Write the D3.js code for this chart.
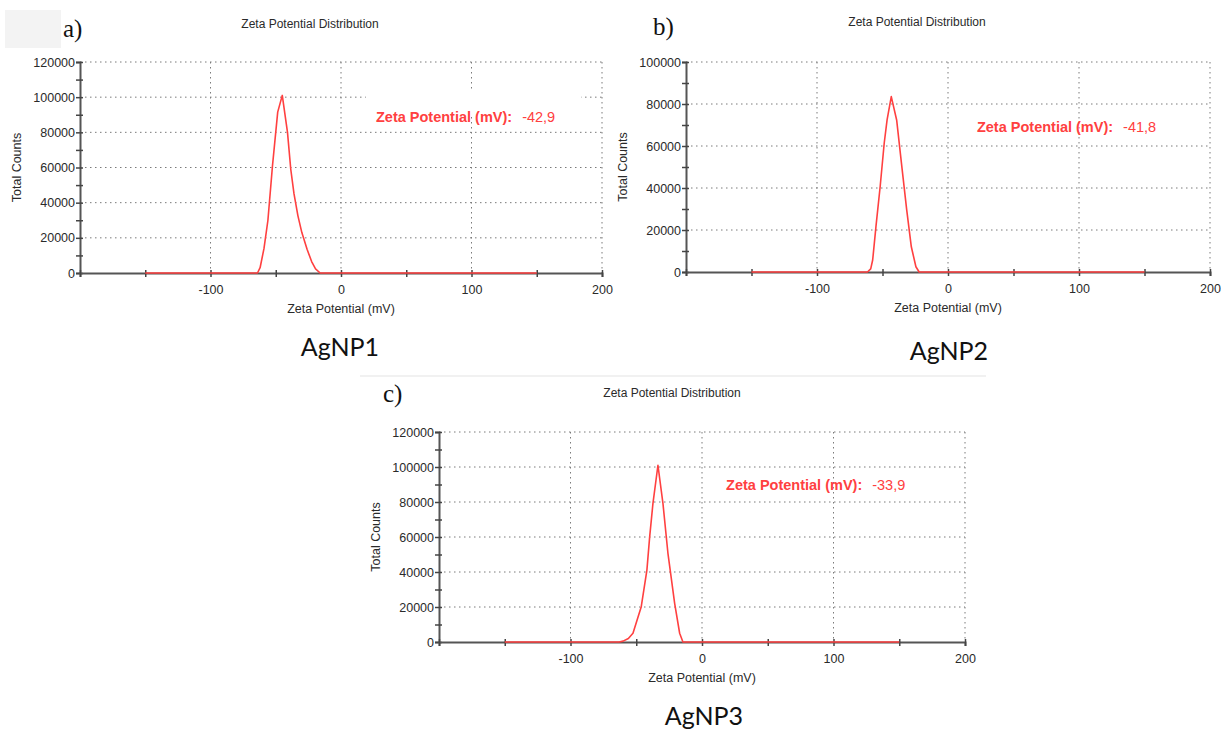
<!DOCTYPE html>
<html lang="en">
<head>
<meta charset="utf-8">
<title>Zeta Potential Distribution</title>
<script src="https://d3js.org/d3.v7.min.js"></script>
<style>
  body { margin: 0; background: #fff; }
  svg { display: block; }
  text { font-family: "Liberation Sans", Arial, sans-serif; }
</style>
</head>
<body>
<div id="chart"></div>
<script>
// zeta potential (mV) vs total counts
const zetaA   = [-150, -64, -62, -59, -56, -52.5, -48.5, -45, -41, -38.5, -36, -33, -30, -26, -22.5, -19.5, -16, 150];
const countsA = [0, 0, 3000, 14000, 30000, 61000, 91500, 101000, 80000, 59000, 45000, 32500, 23000, 13500, 6500, 2300, 0, 0];

const zetaB   = [-150, -61.5, -59, -57.5, -55, -51.8, -48.7, -46.5, -43.3, -39.2, -35.8, -31.5, -28, -24.5, -22, 150];
const countsB = [0, 0, 1500, 5700, 21600, 40600, 61300, 72400, 83500, 72400, 53300, 29500, 12000, 2500, 0, 0];

const zetaC   = [-150, -63, -60, -56, -52.5, -46.2, -41.9, -39.8, -37.3, -33.5, -29.7, -25.9, -20.8, -17, -14.5, 150];
const countsC = [0, 0, 500, 2000, 5000, 20200, 41100, 60100, 79200, 101000, 79200, 50700, 22100, 5000, 0, 0];

const letters = ["a)", "b)", "c)"];
const samples = ["AgNP1", "AgNP2", "AgNP3"];
const zetaValues = ["-42,9", "-41,8", "-33,9"];
const yMaxes = [120000, 100000, 120000];
const xTicks = [-200, -150, -100, -50, 0, 50, 100, 150, 200];
const xTickLabels = [-100, 0, 100, 200];

const red = "#ff4040";

const svg = d3.select("#chart").append("svg")
    .attr("width", 1221)
    .attr("height", 731);

// light box behind "a)" and faint rule above panel c
svg.append("rect").attr("x", 5).attr("y", 10).attr("width", 56).attr("height", 38).attr("fill", "#f3f3f3");
svg.append("line").attr("x1", 360).attr("x2", 986).attr("y1", 376).attr("y2", 376)
    .attr("stroke", "#ececec").attr("stroke-width", 1.5);

const panels = [
  {left: 80, right: 602, top: 62, bottom: 273, zeta: zetaA, counts: countsA,
   letterX: 63, letterY: 37, titleX: 310, titleY: 28, nameX: 340, nameY: 356,
   annX: 26.8, annY: 85900, gap: [19, 184]},
  {left: 686, right: 1210, top: 62, bottom: 272, zeta: zetaB, counts: countsB,
   letterX: 653, letterY: 35, titleX: 917, titleY: 26, nameX: 949, nameY: 360,
   annX: 22.1, annY: 66700},
  {left: 439, right: 965, top: 432, bottom: 642, zeta: zetaC, counts: countsC,
   letterX: 383, letterY: 402, titleX: 672, titleY: 397, nameX: 704, nameY: 725,
   annX: 18.3, annY: 86900}
];

panels.forEach((p, i) => {
  const x = d3.scaleLinear().domain([-200, 200]).range([p.left, p.right]);
  const y = d3.scaleLinear().domain([0, yMaxes[i]]).range([p.bottom, p.top]);
  const g = svg.append("g");

  // dotted grid
  const yGrid = d3.range(20000, yMaxes[i] + 1, 20000);
  g.selectAll(".hg").data(yGrid).join("line")
      .attr("x1", p.left).attr("x2", p.right)
      .attr("y1", d => y(d)).attr("y2", d => y(d))
      .attr("stroke", "#7a7a7a").attr("stroke-dasharray", "1.5,3.5");
  g.selectAll(".vg").data(xTickLabels).join("line")
      .attr("x1", d => x(d)).attr("x2", d => x(d))
      .attr("y1", p.top).attr("y2", p.bottom)
      .attr("stroke", "#7a7a7a").attr("stroke-dasharray", "1.5,3.5");

  if (p.gap) {
    g.append("rect")
        .attr("x", x(p.gap[0])).attr("width", x(p.gap[1]) - x(p.gap[0]))
        .attr("y", y(103000)).attr("height", y(90000) - y(103000))
        .attr("fill", "#fff");
  }

  // y axis
  const yAxis = g.append("g").attr("transform", `translate(${p.left},0)`)
      .call(d3.axisLeft(y).tickValues(d3.range(0, yMaxes[i] + 1, 10000))
        .tickSize(4).tickFormat(d => d % 20000 === 0 ? d : ""));
  yAxis.select(".domain").attr("stroke", "#555").attr("stroke-width", 2);
  yAxis.selectAll(".tick line").attr("stroke", "#444").attr("x1", 3).attr("x2", -4).attr("stroke-width", 1.5);
  yAxis.selectAll(".tick text").attr("x", -5).attr("fill", "#2a2a2a").style("font-size", "12.5px");

  // x axis
  const xAxis = g.append("g").attr("transform", `translate(0,${p.bottom})`)
      .call(d3.axisBottom(x).tickValues(xTicks).tickSize(4)
        .tickFormat(d => xTickLabels.includes(d) ? d : ""));
  xAxis.select(".domain").attr("stroke", "#555").attr("stroke-width", 2);
  xAxis.selectAll(".tick line").attr("stroke", "#444").attr("y1", -3).attr("y2", 4).attr("stroke-width", 1.5);
  xAxis.selectAll(".tick text").attr("y", 12).attr("fill", "#2a2a2a").style("font-size", "12.5px");

  // distribution curve
  const pts = p.zeta.map((z, k) => [z, p.counts[k]]);
  g.append("path").datum(pts)
      .attr("fill", "none").attr("stroke", red).attr("stroke-width", 1.6)
      .attr("stroke-linejoin", "round")
      .attr("d", d3.line().x(d => x(d[0])).y(d => y(d[1])));

  // labels
  g.append("text").attr("x", p.titleX).attr("y", p.titleY).attr("text-anchor", "middle")
      .attr("fill", "#2a2a2a").style("font-size", "12px").text("Zeta Potential Distribution");
  g.append("text").attr("x", x(0)).attr("y", p.bottom + 40).attr("text-anchor", "middle")
      .attr("fill", "#2a2a2a").style("font-size", "12.5px").text("Zeta Potential (mV)");
  g.append("text")
      .attr("transform", `translate(${p.left - 59},${(p.top + p.bottom) / 2}) rotate(-90)`)
      .attr("text-anchor", "middle").attr("fill", "#2a2a2a").style("font-size", "12.5px")
      .text("Total Counts");

  const ann = g.append("text").attr("x", x(p.annX)).attr("y", y(p.annY))
      .attr("fill", red).style("font-size", "14.5px");
  ann.append("tspan").attr("font-weight", "bold").text("Zeta Potential (mV):");
  ann.append("tspan").attr("dx", 10).text(zetaValues[i]);

  g.append("text").attr("x", p.letterX).attr("y", p.letterY)
      .style("font-family", "'Liberation Serif', 'Times New Roman', serif")
      .style("font-size", "25px").attr("fill", "#111").text(letters[i]);
  g.append("text").attr("x", p.nameX).attr("y", p.nameY).attr("text-anchor", "middle")
      .style("font-family", "Lato, 'Open Sans', sans-serif")
      .style("font-size", "25px").attr("fill", "#111").text(samples[i]);
});
</script>
</body>
</html>
